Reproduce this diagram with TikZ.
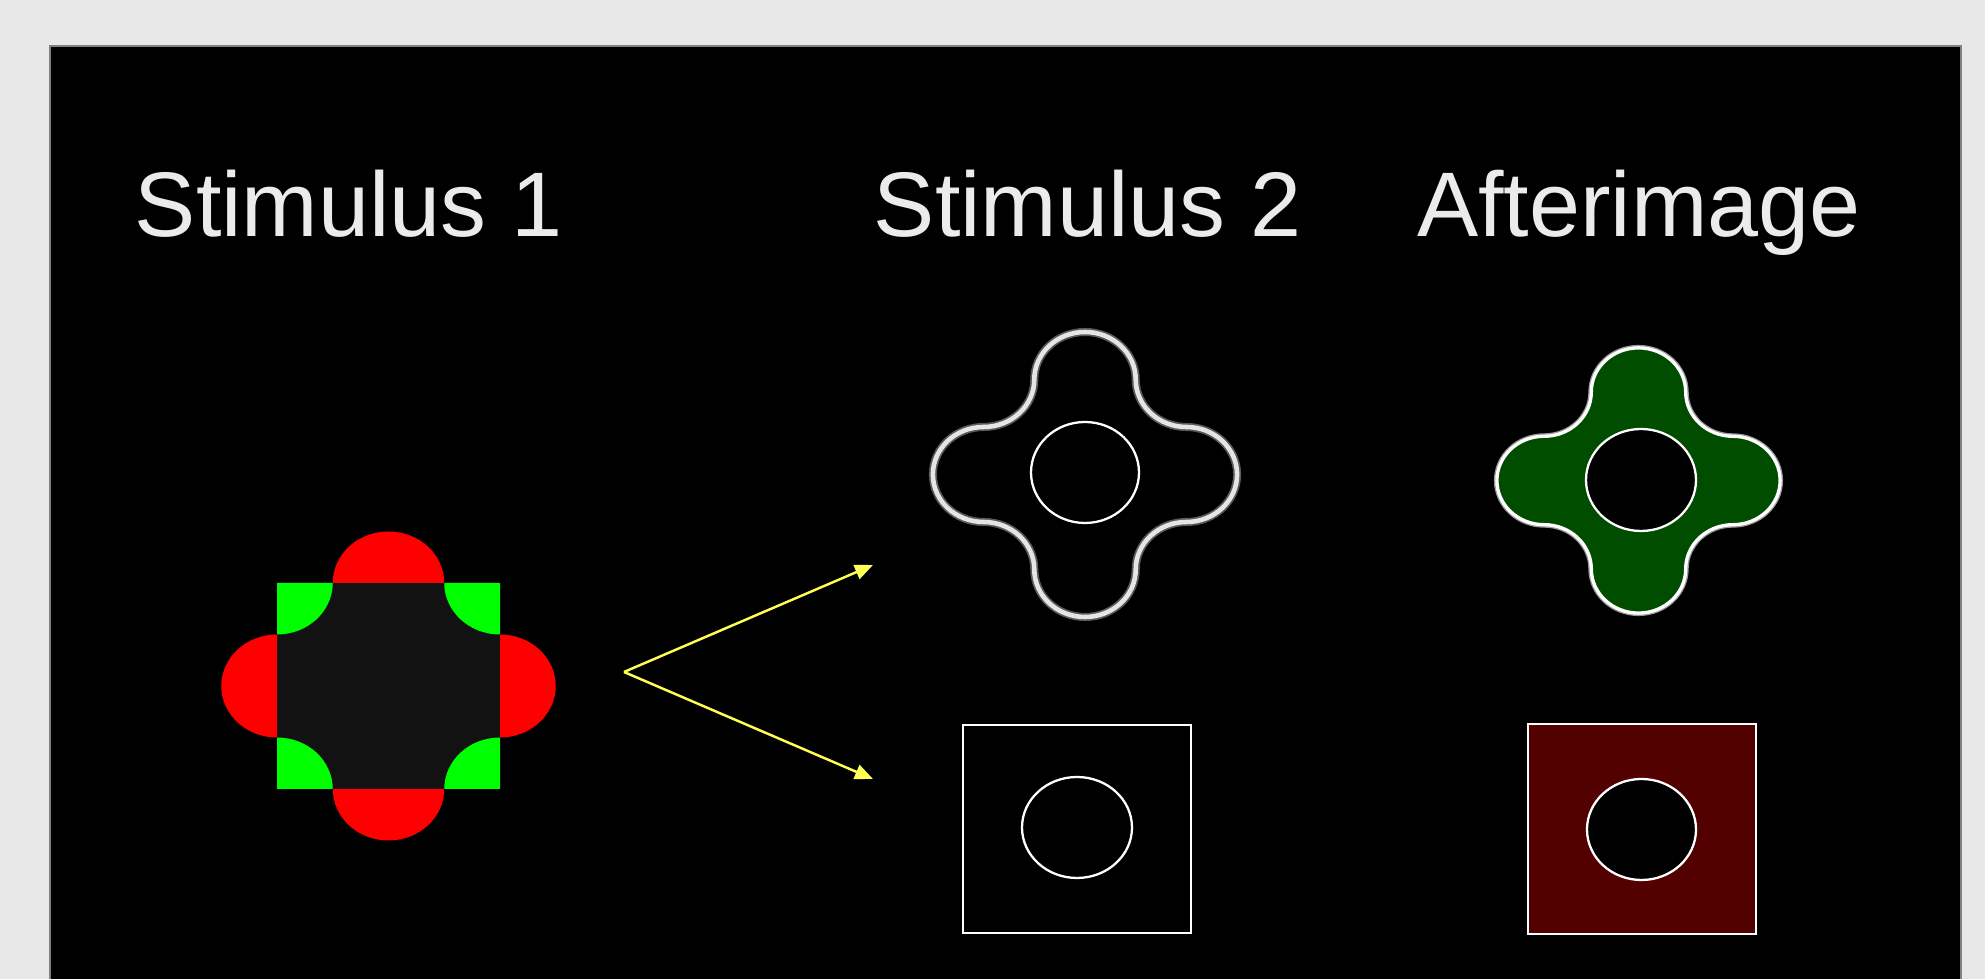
\documentclass[tikz,border=0pt]{standalone}
\usepackage{fontspec}
\setmainfont{Liberation Sans}
\usetikzlibrary{arrows.meta}

\definecolor{pagegray}{HTML}{E8E8E8}
\definecolor{squaregray}{HTML}{121212}
\definecolor{stimred}{HTML}{FF0000}
\definecolor{stimgreen}{HTML}{00FF00}
\definecolor{aftergreen}{HTML}{004D00}
\definecolor{afterred}{HTML}{520000}
\definecolor{arrowyellow}{HTML}{FFFF55}
\definecolor{titlegray}{HTML}{EBEBEB}

\tikzset{
  title/.style={text=titlegray, font=\fontsize{26.1}{32}\selectfont, anchor=base, inner sep=0pt},
  ring/.style={draw=white, line width=0.65pt},
  glow/.style={draw=white!35!black, line width=2.3pt},
  rim/.style={draw=white!90!black, line width=1.3pt},
  splitarrow/.style={draw=arrowyellow, line width=0.7pt, -{Triangle[length=0.18cm,width=0.15cm]}},
  lobes/.pic={
    \path[pic actions] (-1,2) arc[start angle=180, end angle=0, radius=1]
      arc[start angle=180, end angle=270, radius=1]
      arc[start angle=90, end angle=-90, radius=1]
      arc[start angle=90, end angle=180, radius=1]
      arc[start angle=0, end angle=-180, radius=1]
      arc[start angle=0, end angle=90, radius=1]
      arc[start angle=-90, end angle=-270, radius=1]
      arc[start angle=-90, end angle=0, radius=1] -- cycle;
  }
}

\begin{document}
\begin{tikzpicture}
	\useasboundingbox (0,0) rectangle (19.85,9.79);
	\fill[pagegray] (0,0) rectangle (19.85,9.79);
	\fill[black] (0.5,0) rectangle (19.61,9.33);
	\draw[gray, line width=0.4pt] (0.5,0) -- (0.5,9.33) -- (19.61,9.33) -- (19.61,0);

	% titles
	\node[title] (stimone) at (3.49,7.42) {Stimulus 1};
	\node[title] (stimtwo) at (10.88,7.42) {Stimulus 2};
	\node[title] (after) at (16.39,7.42) {Afterimage};

	% stimulus 1
	\begin{scope}[shift={(3.885,2.93)}, xscale=0.5575, yscale=0.515]
		\fill[squaregray] (-2,-2) rectangle (2,2);
		\foreach \a in {0,90,180,270} {
			\fill[stimred, rotate=\a] (-1,2) arc[start angle=180, end angle=0, radius=1] -- cycle;
			\fill[stimgreen, rotate=\a] (2,2) -- (1,2) arc[start angle=180, end angle=270, radius=1] -- cycle;
		}
	\end{scope}

	% arrows
	\coordinate (fork) at (6.24,3.07);
	\coordinate (uptip) at (8.73,4.14);
	\coordinate (downtip) at (8.73,2.00);
	\draw[splitarrow] (fork) -- (uptip);
	\draw[splitarrow] (fork) -- (downtip);

	% stimulus 2
	\pic[glow, xscale=0.507, yscale=0.475] (lobesout) at (10.85,5.045) {lobes};
	\pic[rim, xscale=0.507, yscale=0.475] (lobesin) at (10.85,5.045) {lobes};
	\draw[ring] (10.85,5.065) ellipse [x radius=0.54, y radius=0.505];
	\draw[draw=white, line width=0.8pt] (9.63,0.46) rectangle (11.91,2.54);
	\draw[ring] (10.77,1.515) ellipse [x radius=0.55, y radius=0.505];

	% afterimage
	\pic[draw=white!60!black, line width=1.7pt, xscale=0.472, yscale=0.442] (greenglow) at (16.385,4.985) {lobes};
	\pic[fill=aftergreen, draw=white, line width=0.95pt, xscale=0.472, yscale=0.442] (greenlobes) at (16.385,4.985) {lobes};
	\filldraw[fill=black, ring] (16.41,4.99) ellipse [x radius=0.55, y radius=0.51];
	\filldraw[fill=afterred, draw=white, line width=0.8pt] (15.28,0.45) rectangle (17.56,2.55);
	\filldraw[fill=black, ring] (16.415,1.495) ellipse [x radius=0.545, y radius=0.505];
\end{tikzpicture}
\end{document}
